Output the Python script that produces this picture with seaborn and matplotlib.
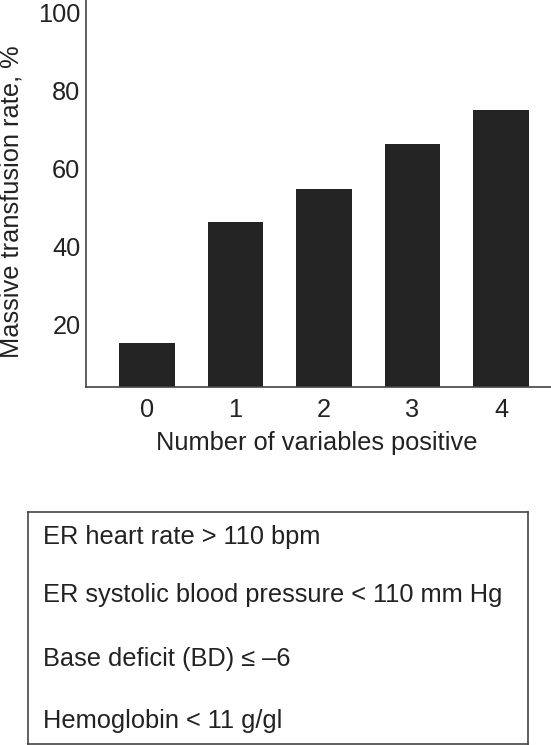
import matplotlib
matplotlib.use("Agg")
import matplotlib.pyplot as plt
import seaborn as sns

# values
n_positive = ["0", "1", "2", "3", "4"]
mt_rate = [15.5, 46.3, 54.9, 66.3, 75.2]
y_ticks = [20, 40, 60, 80, 100]
criteria = [
    "ER heart rate > 110 bpm",
    "ER systolic blood pressure < 110 mm Hg",
    "Base deficit (BD) \u2264 \u20136",
    "Hemoglobin < 11 g/gl",
]

sns.set_style("white")
plt.rcParams['font.family'] = ['Liberation Sans', 'DejaVu Sans']

W, H = 551, 745
FS = 18.3
fig = plt.figure(figsize=(W / 100, H / 100), dpi=100)

# bar chart
ax = fig.add_axes([86 / W, 1 - 387 / H, 1 - 86 / W, 387 / H])
sns.barplot(x=n_positive, y=mt_rate, color="#232323", saturation=1,
            width=0.63, linewidth=0, ax=ax)
ax.set_xlim(-0.69, 4.565)
ax.set_ylim(4.1, 103.3)
ax.set_yticks(y_ticks)
ax.tick_params(axis="both", length=0, labelsize=FS, colors="#222222")
ax.tick_params(axis="y", pad=4)
ax.tick_params(axis="x", pad=8)
for s in ["top", "right"]:
    ax.spines[s].set_visible(False)
for s in ["left", "bottom"]:
    ax.spines[s].set_color("#444444")
    ax.spines[s].set_linewidth(1.2)

ax.set_xlabel("Number of variables positive", fontsize=FS, color="#222222")
ax.xaxis.set_label_coords((317 - 86) / 465, (387 - 443) / 387)
ax.xaxis.label.set_verticalalignment("center")
ax.set_ylabel("Massive transfusion rate, %", fontsize=FS, color="#222222")
ax.yaxis.set_label_coords((12 - 86) / 465, 1 - 202 / 387)
ax.yaxis.label.set_verticalalignment("center")

# criteria box
box = fig.add_axes([28 / W, 1 - 744 / H, 500 / W, 232 / H])
box.set_xticks([])
box.set_yticks([])
for s in box.spines.values():
    s.set_color("#444444")
    s.set_linewidth(1.2)
line_y = [537, 595, 659, 721]
for txt, yy in zip(criteria, line_y):
    fig.text(43 / W, 1 - yy / H, txt, fontsize=FS, color="#222222",
             ha="left", va="center")

fig.savefig("out.png", dpi=100)
